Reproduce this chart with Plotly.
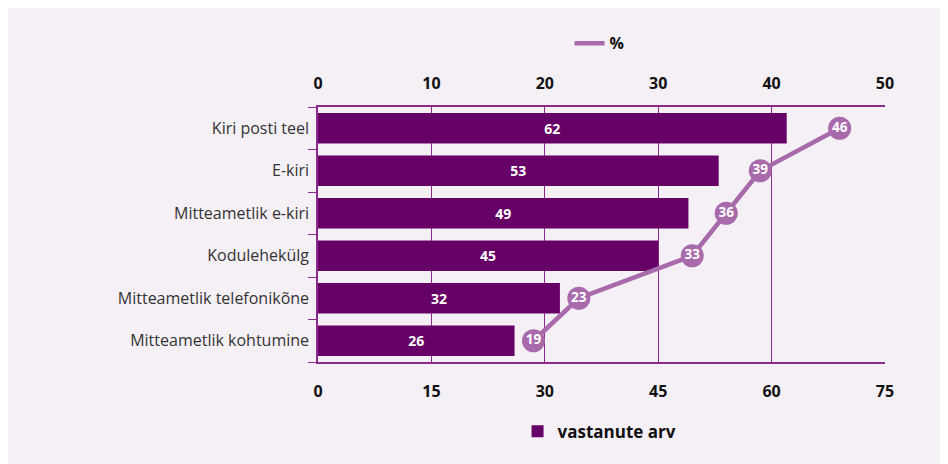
import plotly.graph_objects as go

categories = ["Kiri posti teel", "E-kiri", "Mitteametlik e-kiri", "Kodulehekülg",
              "Mitteametlik telefonikõne", "Mitteametlik kohtumine"]
respondents = [62, 53, 49, 45, 32, 26]
percent = [46, 39, 36, 33, 23, 19]
bottom_ticks = [0, 15, 30, 45, 60, 75]
top_ticks = [0, 10, 20, 30, 40, 50]

BAR = "#660066"
LINE = "#a86aab"
GRID = "#8b2a8e"
CARD = "#f5f0f6"
FONT = "Open Sans"

fig = go.Figure()
fig.add_trace(go.Bar(
    y=categories, x=respondents, orientation="h", name="vastanute arv",
    marker=dict(color=BAR, line=dict(width=0)),
    text=respondents, textposition="inside", insidetextanchor="middle",
    textfont=dict(color="white", size=14, family=FONT, weight="bold"),
    xaxis="x", yaxis="y", legend="legend2", hoverinfo="x+y",
))
fig.add_trace(go.Scatter(
    y=categories, x=percent, mode="lines", name="%",
    line=dict(color=LINE, width=4.5),
    xaxis="x2", yaxis="y", legend="legend",
))
fig.add_trace(go.Scatter(
    y=categories, x=percent, mode="markers+text", showlegend=False,
    marker=dict(color=LINE, size=23),
    text=percent, textposition="middle center",
    textfont=dict(color="white", size=13.5, family=FONT, weight="bold"),
    xaxis="x2", yaxis="y",
))

tickfont = dict(family=FONT, size=16, color="#111111", weight="bold")
fig.update_layout(
    width=948, height=464,
    margin=dict(l=310, r=71, t=99, b=110, autoexpand=False),
    paper_bgcolor=CARD, plot_bgcolor=CARD,
    font=dict(family=FONT),
    bargap=0.28,
    xaxis=dict(range=[0, 75], tickvals=bottom_ticks, ticktext=[str(v) for v in bottom_ticks],
               showgrid=True, gridcolor=GRID, gridwidth=1, zeroline=False,
               showline=True, mirror=True, linecolor=GRID, linewidth=1.5, ticks="",
               tickfont=tickfont, ticklabelstandoff=14, fixedrange=True),
    xaxis2=dict(range=[0, 50], tickvals=top_ticks, overlaying="x", side="top",
                showgrid=False, zeroline=False, showline=False,
                ticks="", tickfont=tickfont, ticklabelstandoff=14, fixedrange=True),
    yaxis=dict(categoryorder="array", categoryarray=categories[::-1],
               range=[-0.5, len(categories) - 0.5], autorange=False,
               showline=True, linecolor=GRID, linewidth=1.5,
               ticks="outside", tickson="boundaries", ticklen=8, tickcolor=GRID,
               tickfont=dict(family=FONT, size=16, color="#333333"),
               ticklabelstandoff=4, showgrid=False, fixedrange=True),
    legend=dict(orientation="h", xref="container", yref="container",
                x=0.624, y=0.924, xanchor="center", yanchor="middle",
                bgcolor="rgba(0,0,0,0)", font=dict(family=FONT, size=16, color="#111111", weight="bold"),
                itemwidth=30),
    legend2=dict(orientation="h", xref="container", yref="container",
                 x=0.624, y=0.087, xanchor="center", yanchor="middle",
                 bgcolor="rgba(0,0,0,0)", font=dict(family=FONT, size=17, color="#111111", weight="bold")),
)

fig.write_html("out.html")
